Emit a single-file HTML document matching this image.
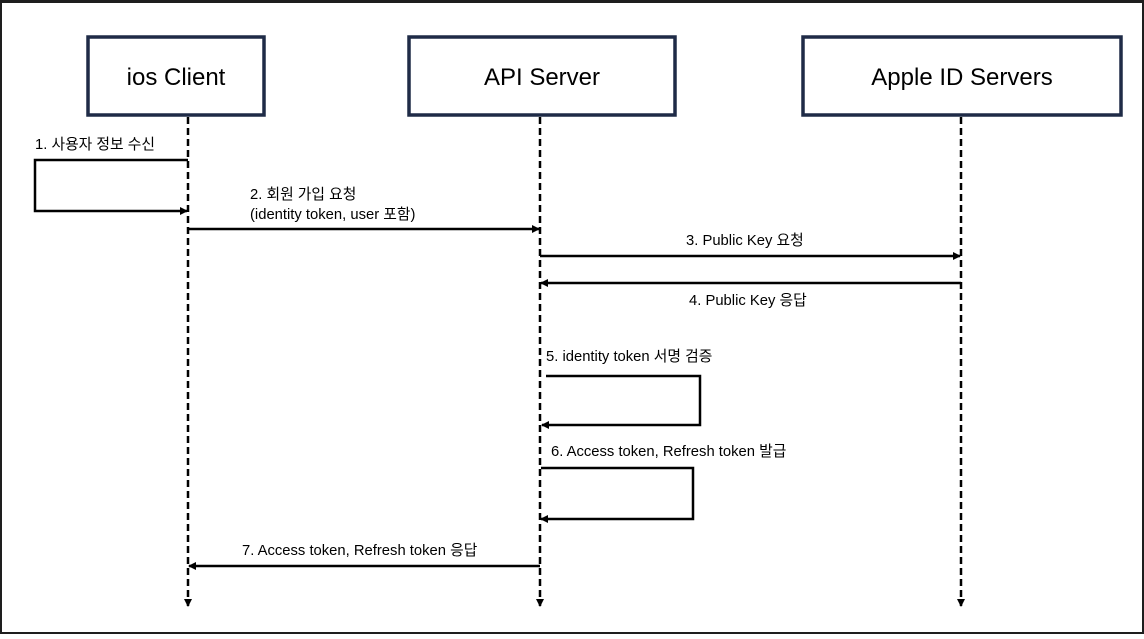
<!DOCTYPE html>
<html><head><meta charset="utf-8"><style>
html,body{margin:0;padding:0;background:#fff}
body{width:1144px;height:634px;overflow:hidden}
</style></head><body>
<svg width="1144" height="634" viewBox="0 0 1144 634" xmlns="http://www.w3.org/2000/svg" font-family="'Liberation Sans','Noto Sans CJK KR',sans-serif">
<defs><marker id="a" markerWidth="8" markerHeight="8" refX="7" refY="4" orient="auto" markerUnits="userSpaceOnUse"><path d="M0,0 L8,4 L0,8 z" fill="#000"/></marker></defs>
<rect x="0" y="0" width="1144" height="634" fill="#fff"/>
<rect x="0.5" y="1.5" width="1143" height="632" fill="none" stroke="#1e1e1e" stroke-width="3"/>
<g fill="#fff" stroke="#1f2b47" stroke-width="3.5">
<rect x="88" y="37" width="176" height="78"/>
<rect x="409" y="37" width="266" height="78"/>
<rect x="803" y="37" width="318" height="78"/>
</g>
<g font-size="24" text-anchor="middle" fill="#000">
<text x="176" y="85">ios Client</text>
<text x="542" y="85">API Server</text>
<text x="962" y="85">Apple ID Servers</text>
</g>
<g stroke="#000" stroke-width="2.5" stroke-dasharray="7,4" marker-end="url(#a)">
<line x1="188" y1="117" x2="188" y2="606"/>
<line x1="540" y1="117" x2="540" y2="606"/>
<line x1="961" y1="117" x2="961" y2="606"/>
</g>
<g stroke="#000" stroke-width="2.5" fill="none" marker-end="url(#a)">
<polyline points="188,160 35,160 35,211 187,211"/>
<line x1="188" y1="229" x2="539" y2="229"/>
<line x1="540" y1="256" x2="960" y2="256"/>
<line x1="961" y1="283" x2="541" y2="283"/>
<polyline points="546,376 700,376 700,425 542,425"/>
<polyline points="541,468 693,468 693,519 541,519"/>
<line x1="540" y1="566" x2="189" y2="566"/>
</g>
<g font-size="14.8" fill="#000">
<text x="35" y="149">1. 사용자 정보 수신</text>
<text x="250" y="199">2. 회원 가입 요청</text>
<text x="250" y="219">(identity token, user 포함)</text>
<text x="686" y="245">3. Public Key 요청</text>
<text x="689" y="305">4. Public Key 응답</text>
<text x="546" y="361">5. identity token 서명 검증</text>
<text x="551" y="456">6. Access token, Refresh token 발급</text>
<text x="242" y="555">7. Access token, Refresh token 응답</text>
</g>
</svg>
</body></html>
